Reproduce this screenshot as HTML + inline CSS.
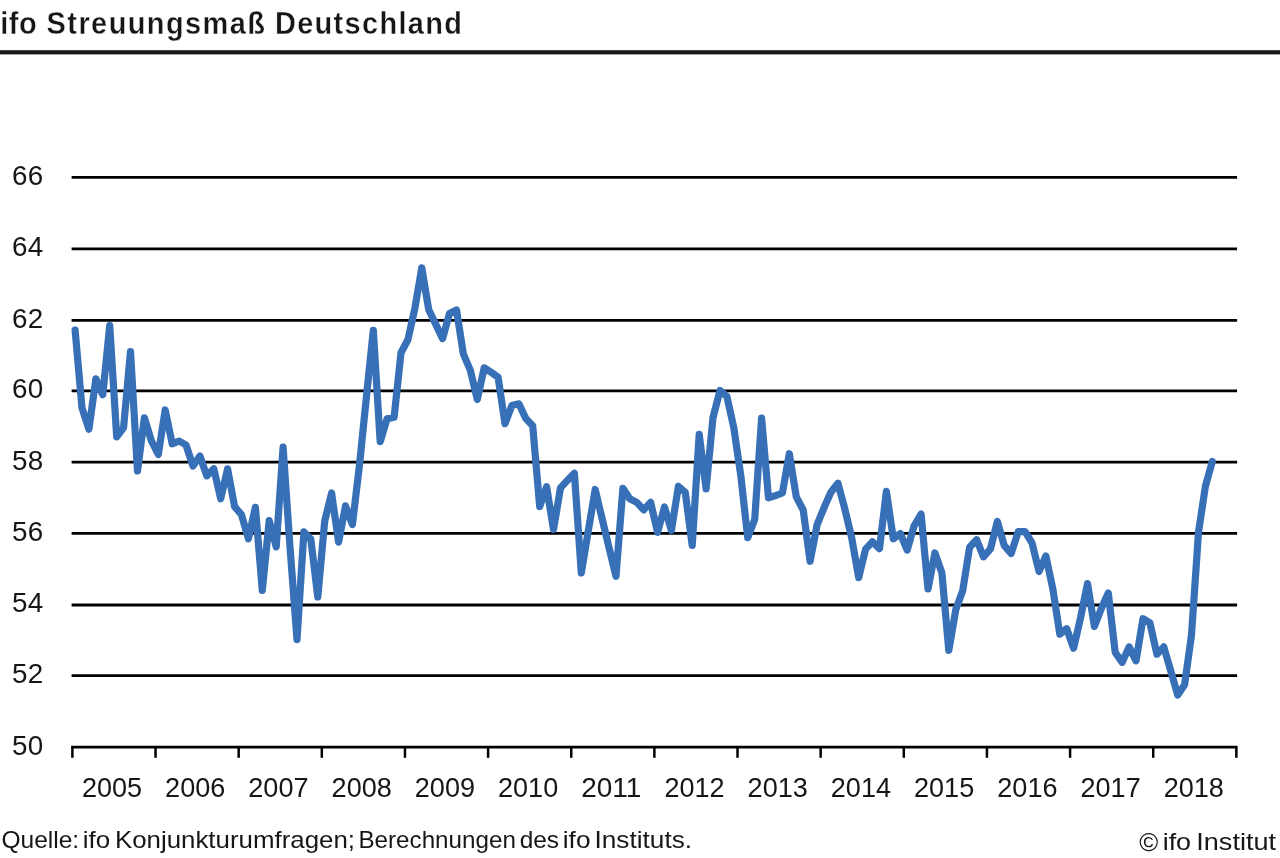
<!DOCTYPE html>
<html lang="de">
<head>
<meta charset="utf-8">
<title>ifo Streuungsmaß Deutschland</title>
<style>
html,body{margin:0;padding:0;background:#fff;}
body{width:1280px;height:858px;overflow:hidden;font-family:"Liberation Sans",sans-serif;}
svg{display:block;}
text{font-family:"Liberation Sans",sans-serif;fill:#161616;}
.ax{font-size:27.8px;}
.yl{letter-spacing:0.3px;}
.ft{font-size:23.2px;}
.ti{font-size:31.5px;font-weight:bold;stroke:#ffffff;stroke-width:0.35px;stroke-linejoin:round;}
</style>
</head>
<body>
<svg width="1280" height="858" viewBox="0 0 1280 858">
<rect x="0" y="0" width="1280" height="858" fill="#ffffff"/>

<g class="ti">
<text transform="translate(0.3,33.7) scale(0.92,1)" textLength="39.5" lengthAdjust="spacing">ifo</text>
<text transform="translate(46.6,33.7) scale(0.92,1)" textLength="237.4" lengthAdjust="spacing">Streuungsmaß</text>
<text transform="translate(274.9,33.7) scale(0.92,1)" textLength="203.3" lengthAdjust="spacing">Deutschland</text>
</g>
<rect x="0" y="50.2" width="1280" height="4.2" fill="#1a1a1a"/>
<line x1="71.6" y1="177.30" x2="1237.1" y2="177.30" stroke="#000" stroke-width="2.8"/>
<line x1="71.6" y1="248.80" x2="1237.1" y2="248.80" stroke="#000" stroke-width="2.8"/>
<line x1="71.6" y1="320.40" x2="1237.1" y2="320.40" stroke="#000" stroke-width="2.8"/>
<line x1="71.6" y1="390.80" x2="1237.1" y2="390.80" stroke="#000" stroke-width="2.8"/>
<line x1="71.6" y1="462.20" x2="1237.1" y2="462.20" stroke="#000" stroke-width="2.8"/>
<line x1="71.6" y1="533.40" x2="1237.1" y2="533.40" stroke="#000" stroke-width="2.8"/>
<line x1="71.6" y1="605.00" x2="1237.1" y2="605.00" stroke="#000" stroke-width="2.8"/>
<line x1="71.6" y1="675.60" x2="1237.1" y2="675.60" stroke="#000" stroke-width="2.8"/>
<line x1="71.1" y1="747.20" x2="1237.5" y2="747.20" stroke="#000" stroke-width="2.8"/>
<line x1="72.40" y1="747.2" x2="72.40" y2="757.8" stroke="#000" stroke-width="2.5"/>
<line x1="155.54" y1="747.2" x2="155.54" y2="757.8" stroke="#000" stroke-width="2.5"/>
<line x1="238.68" y1="747.2" x2="238.68" y2="757.8" stroke="#000" stroke-width="2.5"/>
<line x1="321.82" y1="747.2" x2="321.82" y2="757.8" stroke="#000" stroke-width="2.5"/>
<line x1="404.96" y1="747.2" x2="404.96" y2="757.8" stroke="#000" stroke-width="2.5"/>
<line x1="488.10" y1="747.2" x2="488.10" y2="757.8" stroke="#000" stroke-width="2.5"/>
<line x1="571.24" y1="747.2" x2="571.24" y2="757.8" stroke="#000" stroke-width="2.5"/>
<line x1="654.38" y1="747.2" x2="654.38" y2="757.8" stroke="#000" stroke-width="2.5"/>
<line x1="737.52" y1="747.2" x2="737.52" y2="757.8" stroke="#000" stroke-width="2.5"/>
<line x1="820.66" y1="747.2" x2="820.66" y2="757.8" stroke="#000" stroke-width="2.5"/>
<line x1="903.80" y1="747.2" x2="903.80" y2="757.8" stroke="#000" stroke-width="2.5"/>
<line x1="986.94" y1="747.2" x2="986.94" y2="757.8" stroke="#000" stroke-width="2.5"/>
<line x1="1070.08" y1="747.2" x2="1070.08" y2="757.8" stroke="#000" stroke-width="2.5"/>
<line x1="1153.22" y1="747.2" x2="1153.22" y2="757.8" stroke="#000" stroke-width="2.5"/>
<line x1="1236.36" y1="747.2" x2="1236.36" y2="757.8" stroke="#000" stroke-width="2.5"/>
<text class="ax yl" x="12.0" y="184.7">66</text>
<text class="ax yl" x="12.0" y="256.2">64</text>
<text class="ax yl" x="12.0" y="327.8">62</text>
<text class="ax yl" x="12.0" y="398.2">60</text>
<text class="ax yl" x="12.0" y="469.6">58</text>
<text class="ax yl" x="12.0" y="540.8">56</text>
<text class="ax yl" x="12.0" y="612.4">54</text>
<text class="ax yl" x="12.0" y="683.0">52</text>
<text class="ax yl" x="12.0" y="754.6">50</text>
<text class="ax" x="112.0" y="796.8" text-anchor="middle" textLength="60.2" lengthAdjust="spacingAndGlyphs">2005</text>
<text class="ax" x="195.2" y="796.8" text-anchor="middle" textLength="60.2" lengthAdjust="spacingAndGlyphs">2006</text>
<text class="ax" x="278.4" y="796.8" text-anchor="middle" textLength="60.2" lengthAdjust="spacingAndGlyphs">2007</text>
<text class="ax" x="361.7" y="796.8" text-anchor="middle" textLength="60.2" lengthAdjust="spacingAndGlyphs">2008</text>
<text class="ax" x="444.9" y="796.8" text-anchor="middle" textLength="60.2" lengthAdjust="spacingAndGlyphs">2009</text>
<text class="ax" x="528.1" y="796.8" text-anchor="middle" textLength="60.2" lengthAdjust="spacingAndGlyphs">2010</text>
<text class="ax" x="611.3" y="796.8" text-anchor="middle" textLength="60.2" lengthAdjust="spacingAndGlyphs">2011</text>
<text class="ax" x="694.5" y="796.8" text-anchor="middle" textLength="60.2" lengthAdjust="spacingAndGlyphs">2012</text>
<text class="ax" x="777.7" y="796.8" text-anchor="middle" textLength="60.2" lengthAdjust="spacingAndGlyphs">2013</text>
<text class="ax" x="860.9" y="796.8" text-anchor="middle" textLength="60.2" lengthAdjust="spacingAndGlyphs">2014</text>
<text class="ax" x="944.1" y="796.8" text-anchor="middle" textLength="60.2" lengthAdjust="spacingAndGlyphs">2015</text>
<text class="ax" x="1027.4" y="796.8" text-anchor="middle" textLength="60.2" lengthAdjust="spacingAndGlyphs">2016</text>
<text class="ax" x="1110.6" y="796.8" text-anchor="middle" textLength="60.2" lengthAdjust="spacingAndGlyphs">2017</text>
<text class="ax" x="1193.8" y="796.8" text-anchor="middle" textLength="60.2" lengthAdjust="spacingAndGlyphs">2018</text>
<polyline fill="none" stroke="#3870b8" stroke-width="7.2" stroke-linejoin="round" stroke-linecap="round" points="75.1,330.0 82.0,407.9 88.9,429.2 95.9,378.8 102.8,394.7 109.7,325.5 116.7,436.8 123.6,427.5 130.5,351.6 137.5,471.0 144.4,417.8 151.3,440.6 158.3,454.5 165.2,410.0 172.2,443.8 179.1,441.0 186.0,445.0 193.0,466.0 199.9,456.0 206.8,475.9 213.8,468.8 220.7,498.8 227.6,468.8 234.6,506.7 241.5,514.7 248.4,538.7 255.4,507.3 262.3,590.4 269.2,520.6 276.2,546.9 283.1,447.2 290.0,546.9 297.0,639.6 303.9,531.9 310.8,539.1 317.8,597.0 324.7,521.2 331.6,493.0 338.6,542.1 345.5,505.9 352.4,524.5 359.4,465.7 366.3,398.2 373.3,330.3 380.2,441.6 387.1,418.8 394.1,417.3 401.0,352.8 407.9,339.7 414.9,308.2 421.8,267.8 428.7,309.7 435.7,324.1 442.6,338.6 449.5,313.4 456.5,310.0 463.4,354.1 470.3,370.1 477.3,399.5 484.2,367.8 491.1,372.3 498.1,377.2 505.0,423.7 511.9,405.5 518.9,403.8 525.8,418.6 532.7,425.7 539.7,506.6 546.6,486.6 553.5,529.5 560.5,487.9 567.4,480.4 574.4,473.4 581.3,573.0 588.2,531.3 595.2,489.5 602.1,518.7 609.0,547.6 616.0,576.3 622.9,488.3 629.8,498.8 636.8,502.4 643.7,509.8 650.6,502.4 657.6,532.4 664.5,507.0 671.4,530.4 678.4,486.4 685.3,492.4 692.2,545.4 699.2,434.4 706.1,488.8 713.0,417.5 720.0,390.5 726.9,396.5 733.8,427.8 740.8,475.7 747.7,537.7 754.7,519.5 761.6,418.1 768.5,497.8 775.5,495.6 782.4,493.0 789.3,453.7 796.3,496.8 803.2,510.0 810.1,561.3 817.1,524.7 824.0,507.8 830.9,492.3 837.9,483.2 844.8,508.8 851.7,537.9 858.7,577.6 865.6,549.1 872.5,541.8 879.5,548.6 886.4,491.4 893.3,538.8 900.3,533.5 907.2,550.1 914.1,525.8 921.1,514.0 928.0,589.0 934.9,553.0 941.9,573.0 948.8,650.4 955.8,609.6 962.7,590.8 969.6,547.2 976.6,539.7 983.5,556.9 990.4,549.0 997.4,521.5 1004.3,545.7 1011.2,553.5 1018.2,531.6 1025.1,531.6 1032.0,542.9 1039.0,571.5 1045.9,556.0 1052.8,588.8 1059.8,634.1 1066.7,628.7 1073.6,648.2 1080.6,617.5 1087.5,583.6 1094.4,626.5 1101.4,608.2 1108.3,593.0 1115.2,652.4 1122.2,662.3 1129.1,646.9 1136.0,660.8 1143.0,618.7 1149.9,622.9 1156.9,654.2 1163.8,646.9 1170.7,670.7 1177.7,695.1 1184.6,684.8 1191.5,635.0 1198.5,532.3 1205.4,486.3 1212.3,461.5"/>
<g class="ft">
<text x="1.4" y="847.8" textLength="77.8" lengthAdjust="spacingAndGlyphs">Quelle:</text>
<text x="82.7" y="847.8" textLength="27.4" lengthAdjust="spacingAndGlyphs">ifo</text>
<text x="114.9" y="847.8" textLength="240.1" lengthAdjust="spacingAndGlyphs">Konjunkturumfragen;</text>
<text x="358.4" y="847.8" textLength="157.5" lengthAdjust="spacingAndGlyphs">Berechnungen</text>
<text x="519.7" y="847.8" textLength="39.4" lengthAdjust="spacingAndGlyphs">des</text>
<text x="562.8" y="847.8" textLength="27.7" lengthAdjust="spacingAndGlyphs">ifo</text>
<text x="594.5" y="847.8" textLength="97.6" lengthAdjust="spacingAndGlyphs">Instituts.</text>
<text x="1139.2" y="851.0" style="font-size:26.3px" textLength="19.0" lengthAdjust="spacingAndGlyphs">©</text>
<text x="1162.7" y="849.5" textLength="28.4" lengthAdjust="spacingAndGlyphs">ifo</text>
<text x="1196.3" y="849.5" textLength="79.7" lengthAdjust="spacingAndGlyphs">Institut</text>
</g>
</svg>
</body>
</html>
